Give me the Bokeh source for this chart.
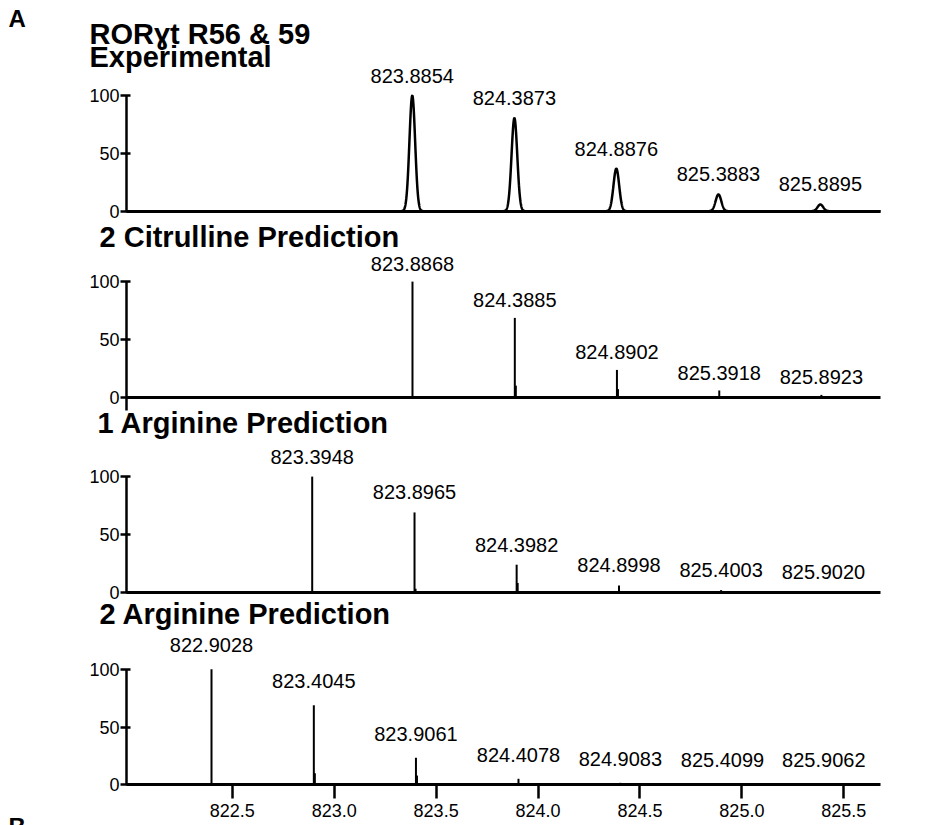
import numpy as np
from bokeh.plotting import figure
from bokeh.models import (ColumnDataSource, LabelSet, Label, FixedTicker,
                          PrintfTickFormatter, Range1d, LinearAxis)
from bokeh.core.properties import value
from bokeh.embed import file_html
from bokeh.resources import INLINE

FONT = "Liberation Sans"

# ---------------- data ----------------
exp_labels = ["823.8854", "824.3873", "824.8876", "825.3883", "825.8895"]
exp_pos = [823.383, 823.884, 824.384, 824.885, 825.385]
exp_int = [100, 80.5, 36.8, 14.5, 5.8]

cit_labels = ["823.8868", "824.3885", "824.8902", "825.3918", "825.8923"]
cit_pos = [823.384, 823.886, 824.387, 824.889, 825.390]
cit_int = [100, 68.6, 23.6, 5.8, 2.0]
cit_minor_pos = [823.891, 824.392]
cit_minor_int = [10, 7]

arg1_labels = ["823.3948", "823.8965", "824.3982", "824.8998", "825.4003", "825.9020"]
arg1_pos = [822.892, 823.394, 823.895, 824.397, 824.898, 825.400]
arg1_int = [100, 69.0, 23.8, 5.8, 1.8, 0.6]
arg1_minor_pos = [823.399, 823.900]
arg1_minor_int = [3, 8]

arg2_labels = ["822.9028", "823.4045", "823.9061", "824.4078", "824.9083", "825.4099", "825.9062"]
arg2_pos = [822.398, 822.900, 823.401, 823.904, 824.404, 824.905, 825.402]
arg2_int = [100, 68.8, 23.4, 5.2, 1.7, 0.6, 0.3]
arg2_minor_pos = [822.905, 823.406]
arg2_minor_int = [10, 8]

x_ticks = [822.5, 823.0, 823.5, 824.0, 824.5, 825.0, 825.5]
y_ticks = [0, 50, 100]

title_exp = ["RORɣt R56 & 59", "Experimental"]
title_cit = "2 Citrulline Prediction"
title_arg1 = "1 Arginine Prediction"
title_arg2 = "2 Arginine Prediction"

# ---------------- layout ----------------
W, H = 926, 825
AX0, AX1 = 821.981, 825.680           # extent of the drawn x axes
UX = 754 / (AX1 - AX0)                # px per m/z unit
XR = (AX0 - 126 / UX, AX1 + 46 / UX)   # full canvas width
PX = 1.156                            # px per intensity unit


def panel_range(zero_px):
    """Intensity range whose 0 lies zero_px below the top of the canvas."""
    return Range1d(-(H - zero_px) / PX, zero_px / PX)


p = figure(width=W, height=H, x_range=Range1d(*XR), y_range=panel_range(210.7),
           output_backend="svg", toolbar_location=None, title_location=None,
           min_border=0, min_border_left=0, min_border_right=0,
           min_border_top=0, min_border_bottom=0)
p.extra_y_ranges = {"cit": panel_range(396.7), "arg1": panel_range(591.7),
                    "arg2": panel_range(784.3)}
p.xgrid.visible = False
p.ygrid.visible = False
p.outline_line_color = None
p.background_fill_color = "white"
p.border_fill_color = "white"


def style_y(ya, axis_lo=0):
    ya.fixed_location = AX0
    ya.ticker = FixedTicker(ticks=y_ticks)
    ya.bounds = (axis_lo, 100)
    ya.axis_line_width = 2.5
    ya.axis_line_color = "black"
    ya.major_tick_line_width = 2.5
    ya.major_tick_line_color = "black"
    ya.major_tick_out = 6
    ya.major_tick_in = 4
    ya.minor_tick_line_color = None
    ya.major_label_text_font = FONT
    ya.major_label_text_font_size = "18px"
    ya.major_label_text_color = "black"
    ya.major_label_standoff = 1


def style_x(xa, with_ticks=False):
    xa.fixed_location = 0
    xa.bounds = (AX0, AX1)
    xa.axis_line_width = 3
    xa.axis_line_color = "black"
    xa.minor_tick_line_color = None
    if with_ticks:
        xa.ticker = FixedTicker(ticks=x_ticks)
        xa.formatter = PrintfTickFormatter(format="%.1f")
        xa.major_tick_out = 14
        xa.major_tick_in = 0
        xa.major_tick_line_width = 2.5
        xa.major_tick_line_color = "black"
        xa.major_label_standoff = 5
        xa.major_label_text_font = FONT
        xa.major_label_text_font_size = "18px"
        xa.major_label_text_color = "black"
    else:
        xa.ticker = FixedTicker(ticks=[])
        xa.major_tick_out = 0
        xa.major_tick_in = 0
        xa.major_label_standoff = 0
        xa.major_label_text_font_size = "0px"


# panel 1 uses the default axes
style_y(p.yaxis[0])
style_x(p.xaxis[0])
for name, lo, ticks in (("cit", -11.5, False), ("arg1", 0, False), ("arg2", 0, True)):
    ya = LinearAxis(y_range_name=name)
    style_y(ya, lo)
    p.add_layout(ya, "left")
    xa = LinearAxis(y_range_name=name)
    style_x(xa, ticks)
    p.add_layout(xa, "below")


def add_labels(pos, inten, labels, dy, rname="default"):
    src = ColumnDataSource(dict(x=pos, y=inten, t=labels))
    p.add_layout(LabelSet(x="x", y="y", text="t", source=src, y_range_name=rname,
                          text_align="center", text_baseline="alphabetic",
                          y_offset=dy, text_font=value(FONT),
                          text_font_size=value("20px"), text_color="black"))


def add_sticks(pos, inten, rname):
    src = ColumnDataSource(dict(x=pos, h=inten))
    p.segment(x0="x", y0=0, x1="x", y1="h", source=src, line_width=2,
              line_color="black", y_range_name=rname)


def add_title(text, x, y, size="29px"):
    p.add_layout(Label(x=x, y=y, x_units="screen", y_units="screen", text=text,
                       text_font=FONT, text_font_size=size, text_font_style="bold",
                       text_align="left", text_baseline="alphabetic",
                       text_color="black"))


# ---------------- panel 1: experimental ----------------
xs = np.linspace(AX0, AX1, 5000)
sig = 0.014
ys = np.zeros_like(xs)
for c, h in zip(exp_pos, exp_int):
    ys += h * np.exp(-0.5 * ((xs - c) / sig) ** 2)
p.line(xs, ys, line_width=2.5, line_color="black")
add_labels(exp_pos, exp_int, exp_labels, 13)
add_title(title_exp[0], 89, 791.5)
add_title(title_exp[1], 89, 768.3)
add_title("A", 8, 806.7, size="24px")

# ---------------- panel 2: 2 citrulline ----------------
add_sticks(cit_pos, cit_int, "cit")
add_sticks(cit_minor_pos, cit_minor_int, "cit")
add_labels(cit_pos, cit_int, cit_labels, 10.5, "cit")
add_title(title_cit, 99, 588.3)

# ---------------- panel 3: 1 arginine ----------------
add_sticks(arg1_pos, arg1_int, "arg1")
add_sticks(arg1_minor_pos, arg1_minor_int, "arg1")
add_labels(arg1_pos, arg1_int, arg1_labels, 13, "arg1")
add_title(title_arg1, 97, 403)

# ---------------- panel 4: 2 arginine ----------------
add_sticks(arg2_pos, arg2_int, "arg2")
add_sticks(arg2_minor_pos, arg2_minor_int, "arg2")
add_labels(arg2_pos, arg2_int, arg2_labels, 17, "arg2")
add_title(title_arg2, 99, 212)
add_title("B", 8, -1, size="24px")

html = file_html(p, INLINE)
html = html.replace("</head>", "<style>html,body{margin:0;overflow:hidden;}</style></head>", 1)
open("out.html", "w").write(html)
